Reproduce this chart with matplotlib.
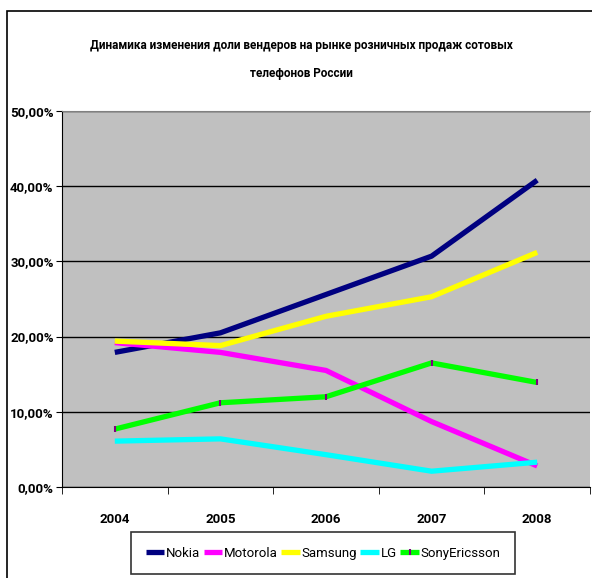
import matplotlib
matplotlib.use('Agg')
import matplotlib.pyplot as plt
from matplotlib.patches import Rectangle
from matplotlib.ticker import FuncFormatter, MultipleLocator

years = ['2004', '2005', '2006', '2007', '2008']
nokia = [17.9, 20.5, 25.6, 30.7, 40.8]
motorola = [19.2, 17.9, 15.5, 8.7, 2.8]
samsung = [19.4, 18.8, 22.7, 25.3, 31.2]
lg = [6.1, 6.4, 4.3, 2.1, 3.3]
sony = [7.7, 11.2, 12.0, 16.5, 13.9]

plt.rcParams['font.family'] = ['Roboto', 'DejaVu Sans']

W, H = 592, 578
fig = plt.figure(figsize=(W / 100, H / 100), dpi=100)

# outer chart frame (runs off the right and bottom edges)
fig.patches.append(Rectangle((7 / W, -0.05), 1.1, 1 - 11 / H + 0.05, transform=fig.transFigure,
                             fill=False, edgecolor='black', linewidth=1.2))

ax = fig.add_axes([62 / W, 1 - 487 / H, (590 - 62) / W, (487 - 111) / H])
ax.set_facecolor('#C0C0C0')

x = list(range(len(years)))
ax.plot(x, nokia, color='#000080', lw=3.8, label='Nokia', solid_capstyle='butt')
ax.plot(x, motorola, color='#FF00FF', lw=3.8, label='Motorola', solid_capstyle='butt')
ax.plot(x, samsung, color='#FFFF00', lw=3.8, label='Samsung', solid_capstyle='butt')
ax.plot(x, lg, color='#00FFFF', lw=3.8, label='LG', solid_capstyle='butt')
ax.plot(x, sony, color='#00FF00', lw=3.8, label='SonyEricsson', solid_capstyle='butt',
        marker='|', markersize=4, markeredgecolor='#800080', markeredgewidth=1.5)

ax.set_xlim(-0.5, len(years) - 0.5)
ax.set_ylim(0, 50)
ax.yaxis.set_major_locator(MultipleLocator(10))
ax.yaxis.set_major_formatter(FuncFormatter(lambda v, p: f'{v:.2f}%'.replace('.', ',')))
ax.grid(axis='y', color='black', lw=1)
ax.set_axisbelow(True)

ax.set_xticks(x)
ax.set_xticklabels(years)
ax.set_xticks([i - 0.5 for i in range(len(years) + 1)], minor=True)
ax.tick_params(axis='x', which='major', length=0, pad=19, labelsize=9.5)
ax.tick_params(axis='x', which='minor', length=5, direction='out', color='black')
ax.tick_params(axis='y', length=4, direction='out', labelsize=9.5, pad=2)
for lbl in ax.get_xticklabels() + ax.get_yticklabels():
    lbl.set_fontweight('bold')

ax.spines['top'].set_color('#808080')
ax.spines['left'].set_color('black')
ax.spines['bottom'].set_color('black')
ax.spines['right'].set_visible(False)

fig.text(301 / W, 1 - 45 / H, 'Динамика изменения доли вендеров на рынке розничных продаж сотовых',
         ha='center', va='center', fontsize=8.5, fontweight='bold')
fig.text(301 / W, 1 - 74 / H, 'телефонов России',
         ha='center', va='center', fontsize=8.5, fontweight='bold')

leg = fig.legend(loc='upper left', bbox_to_anchor=(131 / W, 1 - 532 / H), ncol=5,
                 frameon=True, fancybox=False, edgecolor='black', fontsize=9.5,
                 handlelength=1.4, handletextpad=0.15, columnspacing=0.25, borderpad=1.1,
                 borderaxespad=0)
leg.get_frame().set_linewidth(1.2)

fig.savefig('out.png', dpi=100)
